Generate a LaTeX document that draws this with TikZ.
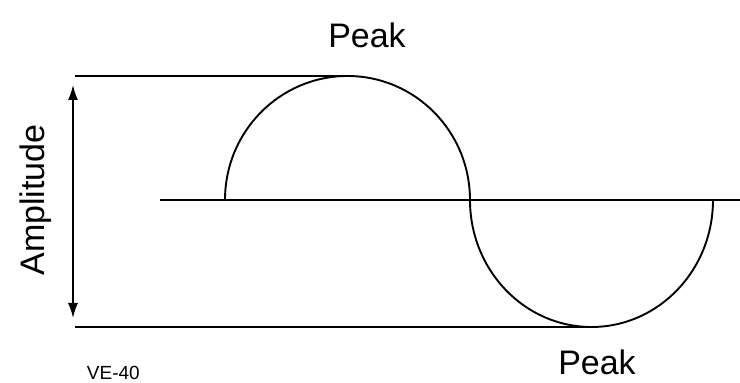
\documentclass[tikz,border=0pt]{standalone}
\usepackage{fontspec}
\setmainfont{Liberation Sans}
\usetikzlibrary{arrows.meta}

\begin{document}
\begin{tikzpicture}[x=1pt,y=1pt,line width=1.9pt,
  lbl/.style={inner sep=0pt,anchor=base,font=\fontsize{34}{34}\selectfont},
  tag/.style={inner sep=0pt,anchor=base west,font=\fontsize{19}{19}\selectfont}]
\useasboundingbox (0,0) rectangle (740,383);

\coordinate (ampTop) at (73,298);
\coordinate (ampBot) at (73,65);

\node (toppeak) at (367,335) [lbl] {Peak};
\node (botpeak) at (597,8) [lbl] {Peak};
\node (amp) at (45,183) [lbl,rotate=90] {Amplitude};
\node (ve) at (86,3) [tag] {VE-40};

% reference lines
\draw (75,307) -- (347.5,307);
\draw (75,56) -- (591.5,56);
\draw (160,183) -- (740,183);

\draw[{Latex[length=15pt,width=10pt]}-{Latex[length=15pt,width=10pt]},line width=1.6pt] (ampTop) -- (ampBot);

% wave
\draw (225,183) arc[start angle=180,end angle=0,x radius=122.5,y radius=124];
\draw (470,183) arc[start angle=180,end angle=360,x radius=121.5,y radius=127];

\end{tikzpicture}
\end{document}
